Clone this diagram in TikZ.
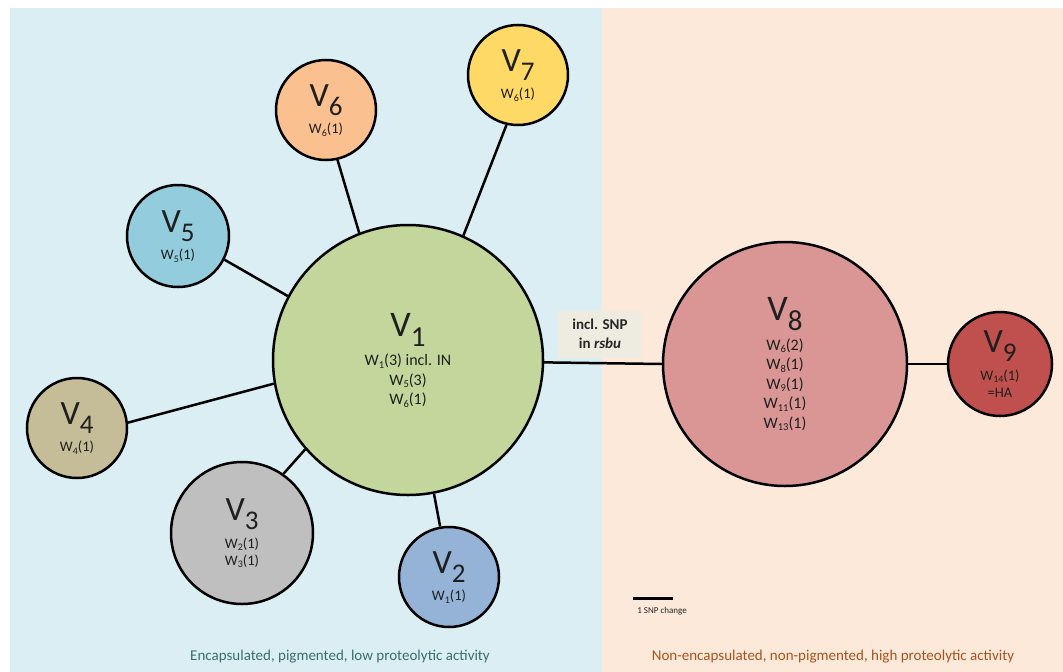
\documentclass[tikz,border=0pt]{standalone}
\usepackage{fontspec}
\setmainfont{Carlito}
\definecolor{bgblue}{HTML}{DAEEF3}
\definecolor{bgpeach}{HTML}{FDE9D9}
\definecolor{cgreen}{HTML}{C3D69B}
\definecolor{cpink}{HTML}{D99694}
\definecolor{cred}{HTML}{C0504D}
\definecolor{cyellow}{HTML}{FFD966}
\definecolor{corange}{HTML}{FAC090}
\definecolor{cblue}{HTML}{93CDDD}
\definecolor{ctan}{HTML}{C4BD97}
\definecolor{cgray}{HTML}{BFBFBF}
\definecolor{csteel}{HTML}{95B3D7}
\definecolor{boxfill}{HTML}{EEECE1}
\definecolor{tealtext}{HTML}{3A6E6E}
\definecolor{browntext}{HTML}{A8521E}
\newcommand\vbig[1]{{\fontsize{36}{36}\selectfont V\raisebox{-10pt}{\fontsize{29}{29}\selectfont #1}}}
\newcommand\vsm[1]{{\fontsize{34}{34}\selectfont V\raisebox{-9pt}{\fontsize{27}{27}\selectfont #1}}}
\newcommand\wsub[1]{W\smash{\raisebox{-2.5pt}{\fontsize{10.5}{10.5}\selectfont #1}}}
\newcommand\wsubs[1]{W\smash{\raisebox{-2.5pt}{\fontsize{10}{10}\selectfont #1}}}
\tikzset{
  hap/.style={circle, draw=black, line width=2.5pt, inner sep=0pt, align=center, text=black!88},
  bigtxt/.style={font=\fontsize{16}{19.5}\selectfont},
  smtxt/.style={font=\fontsize{14.5}{17}\selectfont},
  link/.style={line width=2.5pt, draw=black}
}
\begin{document}
\begin{tikzpicture}[x=1pt,y=-1pt]
\useasboundingbox (0,0) rectangle (1063,672);
\fill[white] (0,0) rectangle (1063,672);
\fill[bgblue] (10,8) rectangle (602,672);
\fill[bgpeach] (602,8) rectangle (1063,672);

\node[hap, bigtxt, fill=cgreen, minimum size=270pt] (v1) at (408,360)
  {\vbig{1}\\[7pt]\wsub{1}(3) incl. IN\\ \wsub{5}(3)\\ \wsub{6}(1)};
\node[hap, bigtxt, fill=cpink, minimum size=244pt] (v8) at (785,364)
  {\vbig{8}\\[7pt]\wsub{6}(2)\\ \wsub{8}(1)\\ \wsub{9}(1)\\ \wsub{11}(1)\\ \wsub{13}(1)};
\node[hap, smtxt, fill=cred, minimum size=104pt] (v9) at (1000,364)
  {\vsm{9}\\[7pt] \wsubs{14}(1)\\ =HA};
\node[hap, smtxt, fill=cyellow, minimum size=100pt] (v7) at (518,75)
  {\vsm{7}\\[7pt] \wsubs{6}(1)};
\node[hap, smtxt, fill=corange, minimum size=100pt] (v6) at (326,110)
  {\vsm{6}\\[7pt] \wsubs{6}(1)};
\node[hap, smtxt, fill=cblue, minimum size=102pt] (v5) at (178,236)
  {\vsm{5}\\[7pt] \wsubs{5}(1)};
\node[hap, smtxt, fill=ctan, minimum size=100pt] (v4) at (77,428)
  {\vsm{4}\\[7pt] \wsubs{4}(1)};
\node[hap, smtxt, fill=cgray, minimum size=142pt] (v3) at (242,533)
  {\vsm{3}\\[7pt] \wsubs{2}(1)\\ \wsubs{3}(1)};
\node[hap, smtxt, fill=csteel, minimum size=100pt] (v2) at (449,577)
  {\vsm{2}\\[7pt] \wsubs{1}(1)};

\draw[link] (v1.66.8) -- (v7.257.7);
\draw[link] (v1.111.6) -- (v6.283);
\draw[link] (v1.152.3) -- (v5.333);
\draw[link] (v1.190.6) -- (v4.6.7);
\draw[link] (v1.221.7) -- (v3.55);
\draw[link] (v1.281.6) -- (v2.100);
\draw[link] (v1.-1.7) -- (v8.180);
\draw[link] (v8.0) -- (v9.180);

\node[fill=boxfill, minimum width=84pt, minimum height=47pt, inner sep=0pt, align=center,
      font=\bfseries\fontsize{15}{19}\selectfont, text=black!85] (snp) at (600,334)
  {incl. SNP\\ in \textit{rsbu}};

\coordinate (sbA) at (633,598);
\coordinate (sbB) at (673,598);
\draw[line width=3pt] (sbA) -- (sbB);
\node[font=\fontsize{9}{9}\selectfont, text=black!85] (sbl) at (662,611) {1 SNP change};

\node[font=\fontsize{15}{15}\selectfont, text=tealtext] (lt) at (340,657)
  {Encapsulated, pigmented, low proteolytic activity};
\node[font=\fontsize{15}{15}\selectfont, text=browntext] (rt) at (833,657)
  {Non-encapsulated, non-pigmented, high proteolytic activity};
\end{tikzpicture}
\end{document}
